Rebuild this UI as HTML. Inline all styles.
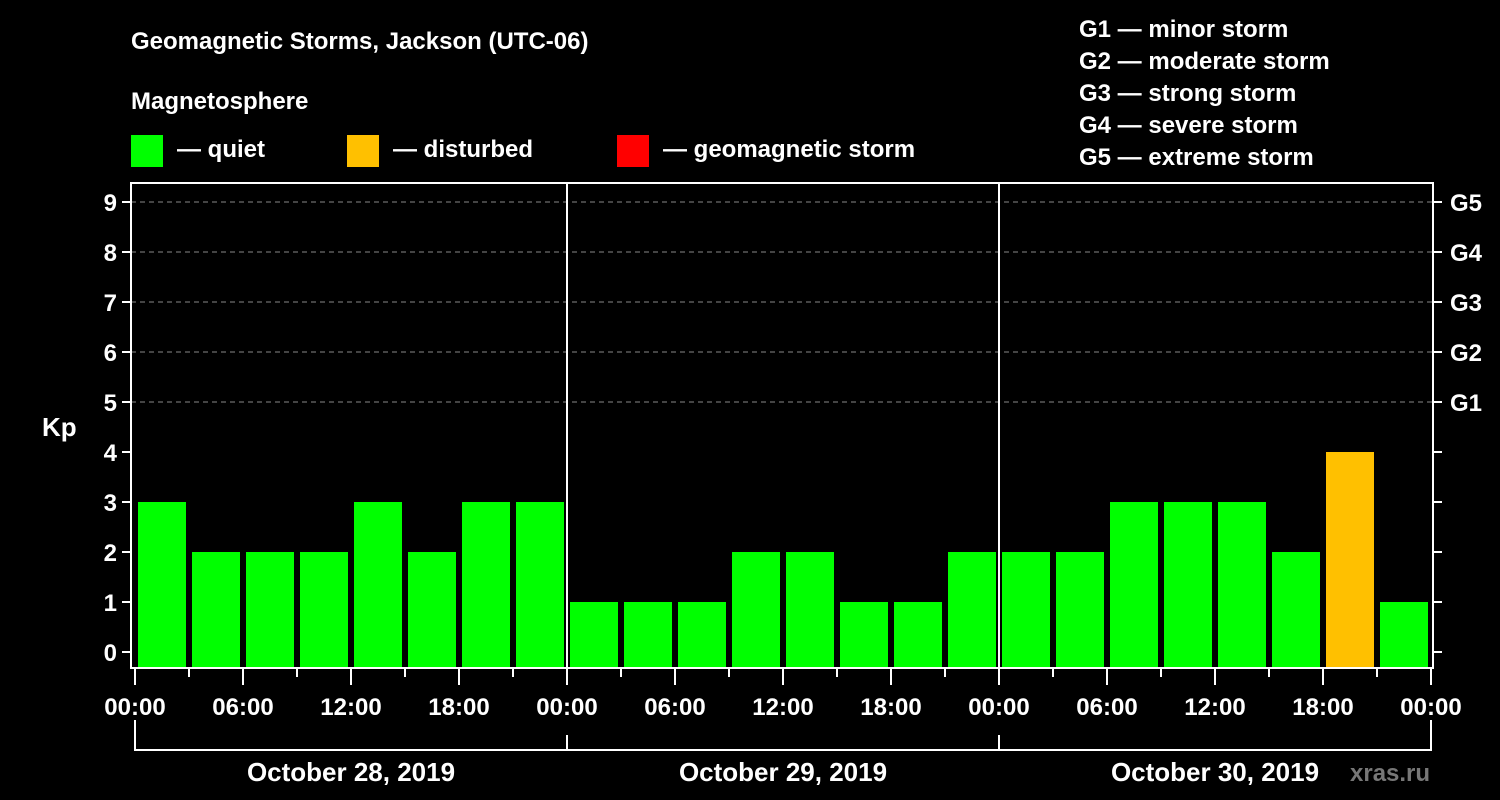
<!DOCTYPE html>
<html><head><meta charset="utf-8"><style>
body{margin:0;background:#000;}
svg{display:block;font-family:"Liberation Sans",Arial,sans-serif;font-weight:bold;}
</style></head><body>
<svg id="c" width="1500" height="800" viewBox="0 0 1500 800">
<rect width="1500" height="800" fill="#000"/>
<text x="131" y="49" fill="#fff" font-size="24">Geomagnetic Storms, Jackson (UTC-06)</text>
<text x="131" y="109" fill="#fff" font-size="24">Magnetosphere</text>
<g><rect x="131" y="135" width="32" height="32" fill="#00ff00"/><text x="177" y="157" fill="#fff" font-size="24">— quiet</text></g>
<g><rect x="347" y="135" width="32" height="32" fill="#ffc000"/><text x="393" y="157" fill="#fff" font-size="24">— disturbed</text></g>
<g><rect x="617" y="135" width="32" height="32" fill="#ff0000"/><text x="663" y="157" fill="#fff" font-size="24">— geomagnetic storm</text></g>
<g fill="#fff" font-size="24">
<text x="1079" y="37">G1 — minor storm</text><text x="1079" y="69">G2 — moderate storm</text><text x="1079" y="101">G3 — strong storm</text><text x="1079" y="133">G4 — severe storm</text><text x="1079" y="165">G5 — extreme storm</text>
</g>
<text x="42" y="436" fill="#fff" font-size="26">Kp</text>
<text x="1350" y="781" fill="#777" font-size="24">xras.ru</text>
<g id="plot"></g>
</svg>
<script>
const kpValues=[3,2,2,2,3,2,3,3, 1,1,1,2,2,1,1,2, 2,2,3,3,3,2,4,1];
const yTicks=[0,1,2,3,4,5,6,7,8,9];
const gLabels=["G1","G2","G3","G4","G5"];
const gLevels=[5,6,7,8,9];
const xTickLabels=["00:00","06:00","12:00","18:00","00:00","06:00","12:00","18:00","00:00","06:00","12:00","18:00","00:00"];
const dayLabels=["October 28, 2019","October 29, 2019","October 30, 2019"];
const NS="http://www.w3.org/2000/svg";
const g=document.getElementById('plot');
const X0=135,PX_H=18,Y0=652,PX_KP=50,TOP=183,BOT=668,LEFT=131,RIGHT=1433;
const xs=h=>X0+h*PX_H, ys=k=>Y0-k*PX_KP;
function mk(t,a){const e=document.createElementNS(NS,t);for(const k in a)e.setAttribute(k,a[k]);g.appendChild(e);return e;}
yTicks.forEach(k=>{
 if(k>=5){const l=mk('line',{x1:LEFT,x2:RIGHT,y1:ys(k),y2:ys(k),stroke:'#888','stroke-dasharray':'5,4','stroke-width':1});
 
 }
 const t=mk('line',{x1:LEFT-9,x2:LEFT,y1:ys(k),y2:ys(k),stroke:'#fff','stroke-width':2});
 
 
 const t2=mk('line',{x1:RIGHT,x2:RIGHT+9,y1:ys(k),y2:ys(k),stroke:'#fff','stroke-width':2});
 
 
 const tx=mk('text',{x:LEFT-14,y:ys(k)+9,fill:'#fff','font-size':24,'text-anchor':'end'});
 tx.textContent=k;
 
 
});
gLabels.forEach((s,i)=>{
 const tx=mk('text',{x:1450,y:ys(gLevels[i])+9,fill:'#fff','font-size':24});
 tx.textContent=s;
 
 
});
kpValues.forEach((v,i)=>{
 const col=v>=5?'#ff0000':(v>=4?'#ffc000':'#00ff00');
 const y=ys(v);
 const r=mk('rect',{x:xs(i*3)+3,y:y,width:48,height:BOT-y,fill:col});
 
 
});
const fr=mk('rect',{x:LEFT,y:TOP,width:RIGHT-LEFT,height:BOT-TOP,fill:'none',stroke:'#fff','stroke-width':2});


[1,2].forEach(d=>{const l=mk('line',{x1:xs(d*24),x2:xs(d*24),y1:TOP,y2:BOT,stroke:'#fff','stroke-width':2});
 
 });
for(let h=0;h<=72;h+=3){
 const major=h%6===0;
 const l=mk('line',{x1:xs(h),x2:xs(h),y1:BOT,y2:BOT+(major?17:9),stroke:'#fff','stroke-width':2});
 
 
}
xTickLabels.forEach((s,i)=>{
 const tx=mk('text',{x:xs(i*6),y:715,fill:'#fff','font-size':24,'text-anchor':'middle'});
 tx.textContent=s;
 
 
});
const br=mk('path',{d:`M${xs(0)},720V750H${xs(72)}V720`,fill:'none',stroke:'#fff','stroke-width':2});


[1,2].forEach(d=>{const l=mk('line',{x1:xs(d*24),x2:xs(d*24),y1:735,y2:750,stroke:'#fff','stroke-width':2});
 
 });
dayLabels.forEach((s,i)=>{
 const tx=mk('text',{x:xs(i*24+12),y:781,fill:'#fff','font-size':26,'text-anchor':'middle'});
 tx.textContent=s;
 
 
});
</script>
</body></html>
